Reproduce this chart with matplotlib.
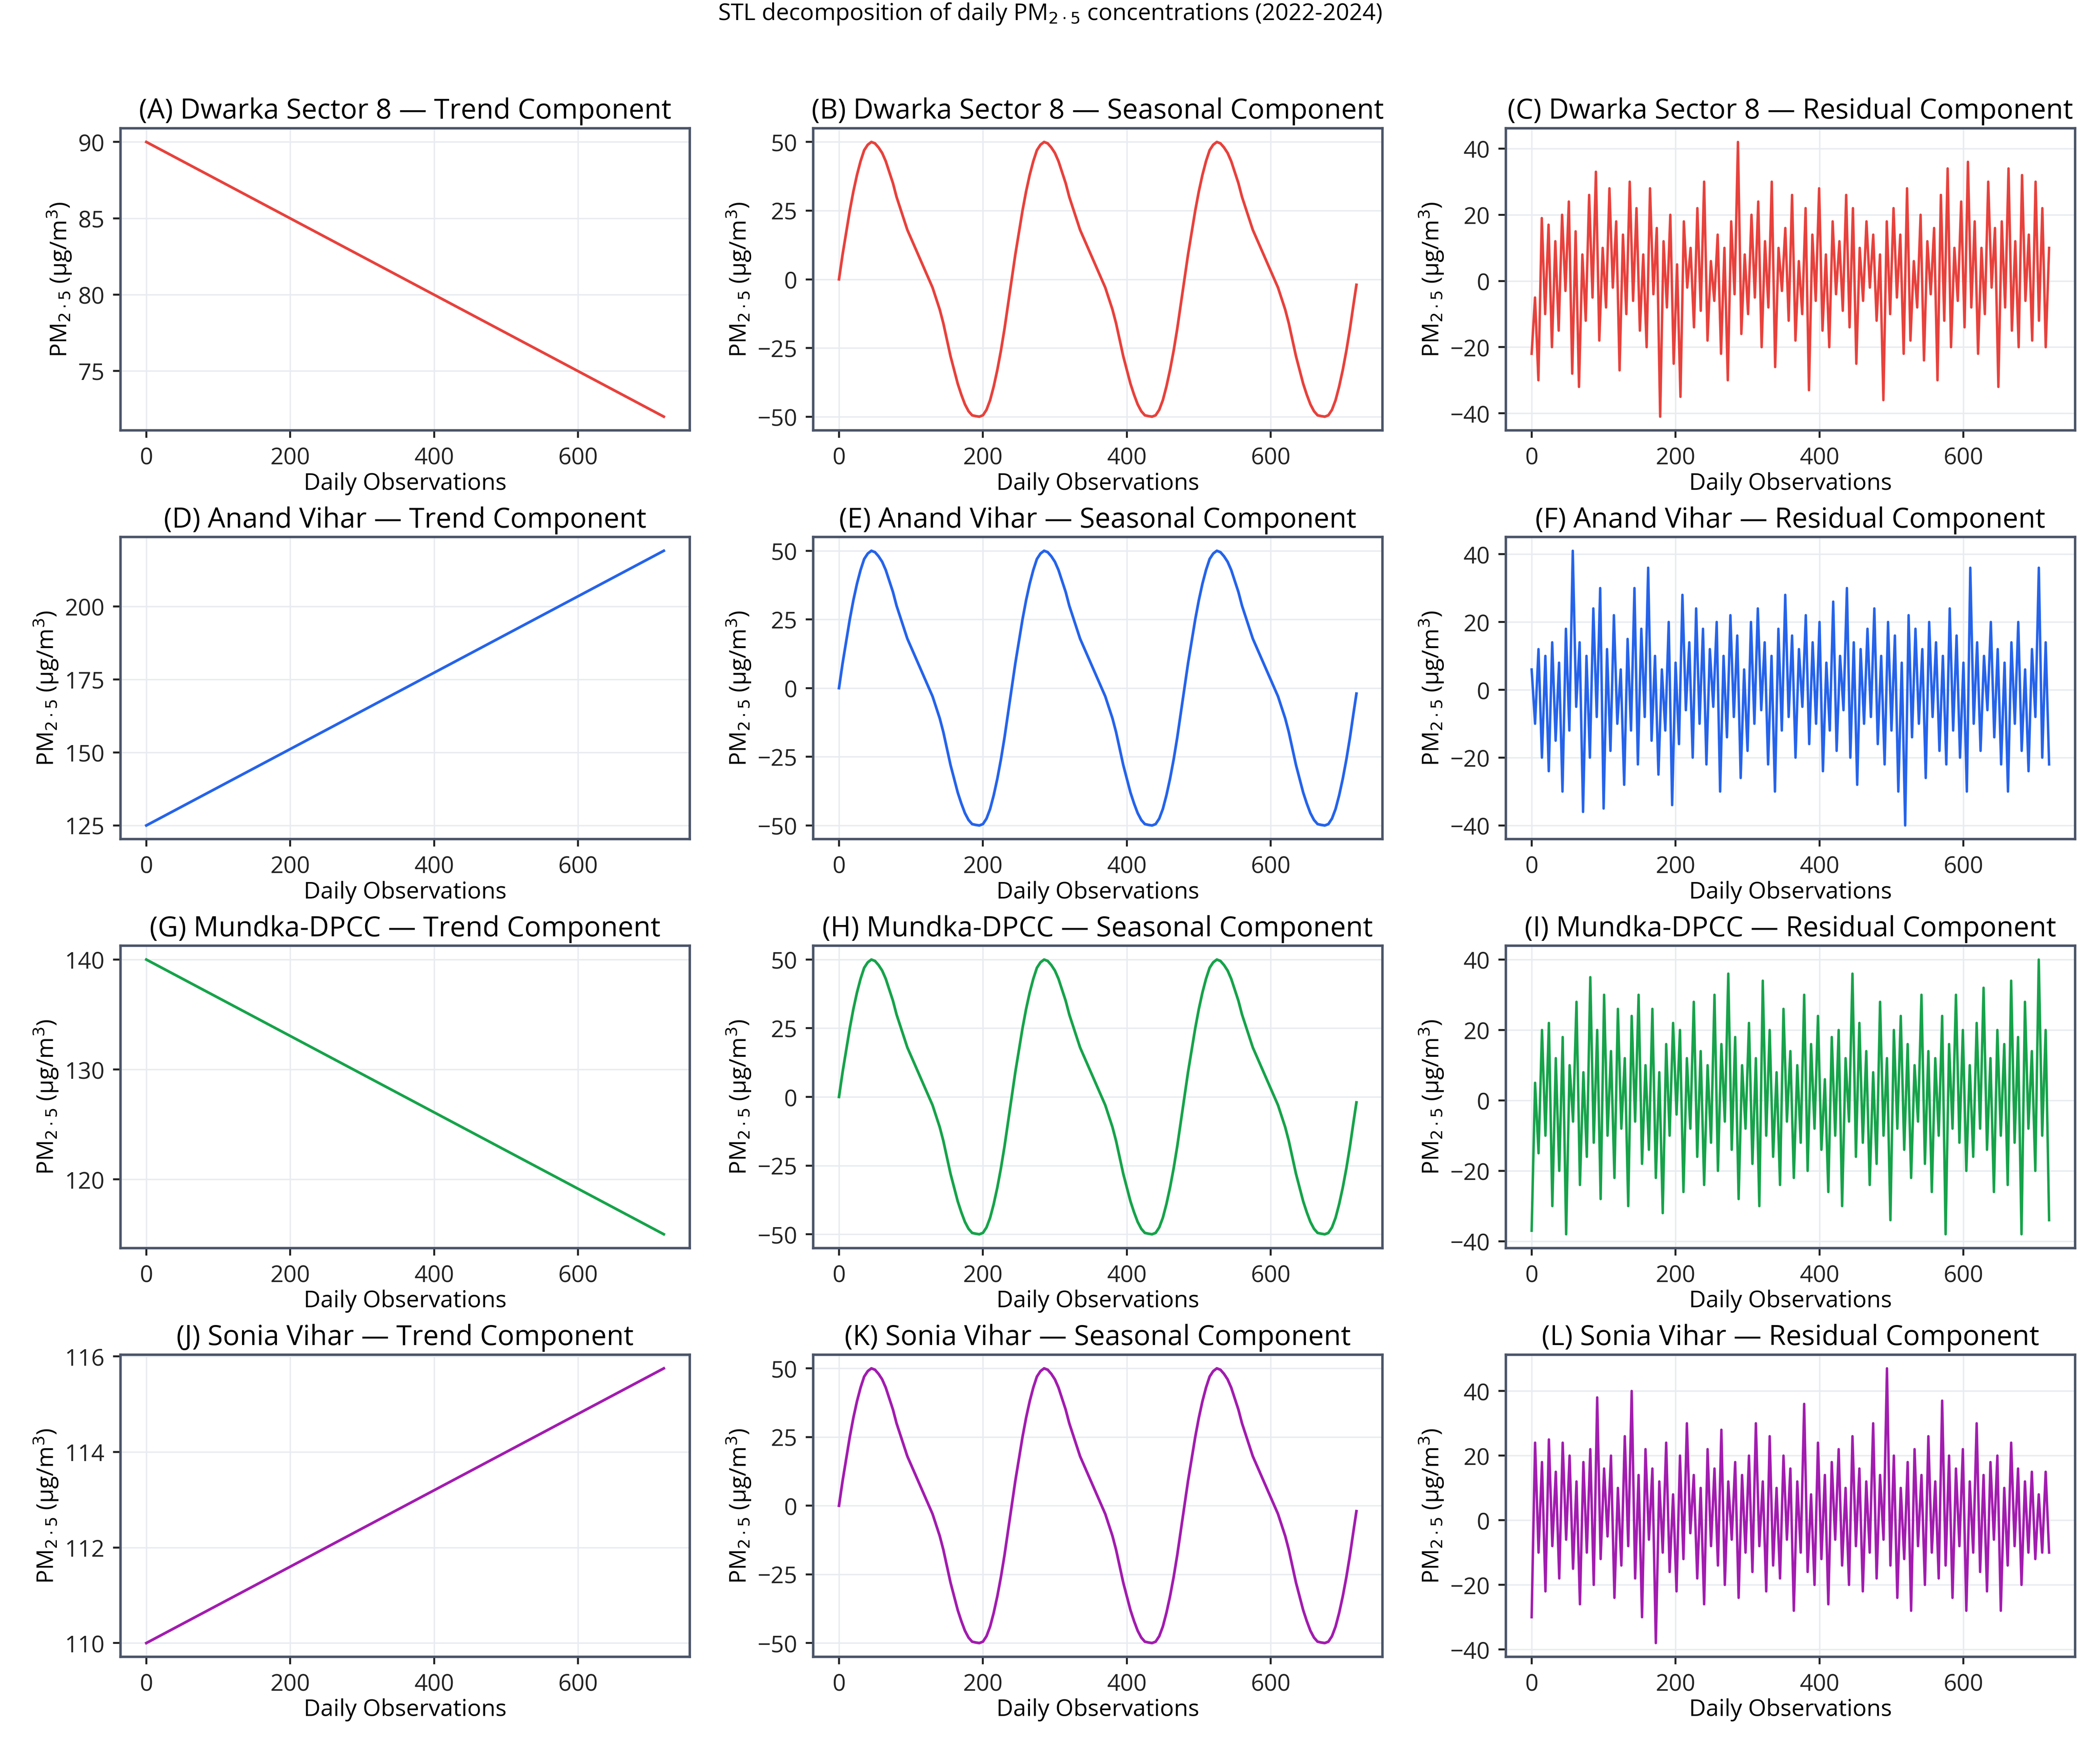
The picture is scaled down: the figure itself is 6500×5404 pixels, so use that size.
import numpy as np
import matplotlib
matplotlib.use("Agg")
import matplotlib.pyplot as plt

plt.rcParams['font.family'] = ['Open Sans', 'DejaVu Sans']
plt.rcParams['font.size'] = 9.5

stations = ["Dwarka Sector 8", "Anand Vihar", "Mundka-DPCC", "Sonia Vihar"]
colors = ["#e8413c", "#2563eb", "#16a34a", "#a21caf"]
letters = ["ABC", "DEF", "GHI", "JKL"]

# trend end points (day 0, day 719)
trend_start = [90.0, 125.0, 140.0, 110.0]
trend_end = [72.0, 219.0, 115.0, 115.75]
trend_yticks = [[75, 80, 85, 90], [125, 150, 175, 200], [120, 130, 140], [110, 112, 114, 116]]

# seasonal component, every 5 days over one 240-day cycle, repeated three times
cycle = [0, 9, 17, 25, 32, 38, 43, 47, 49, 50, 49.5, 48, 46, 43, 39, 35, 30, 26, 22, 18, 15, 12, 9, 6, 3,
         0, -3, -7, -11, -16, -22, -28, -33, -38, -42, -45.5, -48, -49.5, -49.8, -50,
         -49.5, -47.5, -44, -39, -33, -26, -18, -9]
season_vals = cycle * 3 + [-2]
season_days = [5 * k for k in range(len(season_vals) - 1)] + [719]

# residuals, read roughly every ~4.7 days
res_a = """-22 -5 -30 19 -10 17 -20 12 -15 20 -3 24 -28 15 -32 8 -12 26 -5 33 -18 10 -8 28 -2 18 -27 14 -10 30 -6 22
-15 8 -20 28 -4 16 -41 12 -8 20 -25 5 -35 18 -2 10 -14 22 -9 30 -18 6 -6 14 -22 10 -30 18 -4 42 -16 8 -10 20
-5 24 -20 12 -8 30 -26 10 -3 16 -12 26 -18 6 -10 22 -33 14 -6 28 -15 8 -20 18 -4 12 -9 26 -14 22 -25 10 -6 18
-2 14 -12 8 -36 18 -10 22 -5 14 -22 28 -18 6 -8 20 -24 12 -4 16 -30 26 -12 34 -20 10 -6 24 -14 36 -8 18 -22 10
-10 30 -2 16 -32 18 -8 34 -15 12 -20 32 -6 14 -18 30 -12 22 -20 10""".split()
res_d = """6 -10 12 -20 10 -24 14 -15 8 -30 18 -12 41 -5 14 -36 10 -20 24 -8 30 -35 12 -18 22 -10 6 -28 15 -12 30 -22
18 -8 36 -15 10 -25 6 -12 20 -34 8 -16 28 -6 14 -20 24 -10 18 -22 12 -5 20 -30 10 -14 22 -8 16 -26 6 -18 20 -10
24 -6 14 -22 10 -30 18 -12 28 -8 16 -20 12 -5 22 -16 14 -10 20 -24 8 -12 26 -18 10 -6 30 -20 14 -28 12 -10 18
-8 24 -16 10 -22 20 -12 16 -30 8 -40 22 -14 18 -10 12 -26 20 -8 14 -18 10 -22 24 -12 16 -20 8 -30 36 -10 14 -18
10 -6 20 -14 12 -22 8 -30 14 -10 20 -18 6 -24 12 -8 36 -20 14 -22""".split()
res_g = """-37 5 -15 20 -10 22 -30 12 -20 18 -38 10 -6 28 -24 8 -16 35 -12 20 -28 30 -10 14 -22 26 -8 12 -30 24 -6 30
-18 10 -14 26 -22 8 -32 16 -10 22 -4 20 -26 12 -8 28 -16 14 -24 10 -12 30 -20 16 -6 36 -14 18 -28 10 -8 22 -18
12 -30 34 -10 20 -16 8 -24 26 -6 14 -22 10 -12 30 -20 16 -8 24 -14 6 -26 18 -10 20 -30 12 -6 36 -16 22 -12 14
-24 8 -18 28 -10 12 -34 20 -8 24 -14 16 -22 10 -6 30 -18 14 -26 12 -10 24 -38 16 -8 30 -12 20 -20 10 -16 22 -8
32 -14 12 -26 20 -10 16 -24 34 -12 18 -38 28 -8 14 -20 40 -10 20 -34""".split()
res_j = """-30 24 -10 18 -22 25 -8 15 -18 24 -6 20 -15 12 -26 18 -10 22 -20 38 -12 16 -5 20 -24 10 -14 26 -8 40 -18 14
-30 22 -6 16 -38 12 -10 24 -16 8 -22 20 -12 30 -4 14 -18 10 -26 22 -8 16 -14 28 -20 12 -6 18 -24 14 -10 20 -16
30 -8 12 -22 26 -14 10 -18 20 -6 16 -28 12 -10 36 -16 8 -20 24 -12 14 -26 18 -6 22 -14 10 -20 26 -8 16 -22 12
-10 30 -18 14 -6 47 -14 20 -24 10 -12 18 -28 22 -8 14 -20 26 -10 12 -18 37 -14 20 -24 16 -8 22 -28 12 -10 30 -16
14 -22 18 -6 20 -28 10 -14 24 -8 16 -20 12 -10 15 -12 8 -10 15 -10""".split()
residuals = [res_a, res_d, res_g, res_j]

fig, axes = plt.subplots(4, 3, figsize=(11.927, 9.917))
fig.suptitle("STL decomposition of daily PM$_{2\\cdot5}$ concentrations (2022-2024)", fontsize=9.5, y=0.999)
ylab = "PM$_{2\\cdot5}$ (µg/m$^3$)"

for i, st in enumerate(stations):
    c = colors[i]
    ax = axes[i, 0]
    ax.plot([0, 719], [trend_start[i], trend_end[i]], color=c, lw=1.1)
    ax.set_yticks(trend_yticks[i])
    ax.set_title(f"({letters[i][0]}) {st} — Trend Component", pad=4)

    ax = axes[i, 1]
    ax.plot(season_days, season_vals, color=c, lw=1.1)
    ax.set_yticks([-50, -25, 0, 25, 50])
    ax.set_title(f"({letters[i][1]}) {st} — Seasonal Component", pad=4)

    ax = axes[i, 2]
    r = np.array(residuals[i], dtype=float)
    ax.plot(np.linspace(0, 719, len(r)), r, color=c, lw=1.0)
    ax.set_yticks([-40, -20, 0, 20, 40])
    ax.set_title(f"({letters[i][2]}) {st} — Residual Component", pad=4)

    for ax in axes[i]:
        ax.set_xticks([0, 200, 400, 600])
        ax.set_xlabel("Daily Observations", labelpad=1)
        ax.set_ylabel(ylab, labelpad=2)
        ax.grid(True, color="#e8ecf0", lw=0.6)
        ax.set_axisbelow(True)
        for s in ax.spines.values():
            s.set_color("#4a5468")
            s.set_linewidth(1.0)
        ax.tick_params(colors="#222222", length=3)

fig.tight_layout(rect=[0, 0, 1, 0.99], h_pad=0.5, w_pad=1.2)
fig.savefig("out.png", dpi=545)
